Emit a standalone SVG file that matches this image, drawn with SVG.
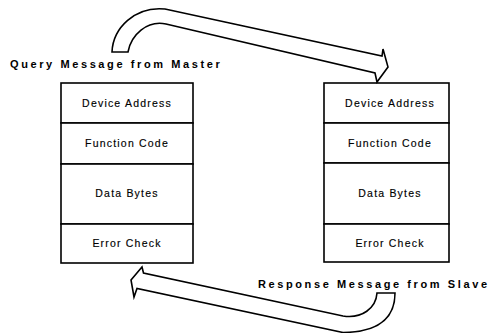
<svg xmlns="http://www.w3.org/2000/svg" width="489" height="333" viewBox="0 0 489 333">
<style>
.box{fill:#fff;stroke:#000;stroke-width:1.6}
.lbl{font-family:"Liberation Sans",Arial,sans-serif;font-size:10.5px;letter-spacing:1.2px;text-anchor:middle;fill:#000;stroke:#000;stroke-width:0.15}
.cap{font-family:"Liberation Sans",Arial,sans-serif;font-size:11px;font-weight:bold;letter-spacing:2.6px;fill:#000}
.arrow{fill:#fff;stroke:#000;stroke-width:1.6;stroke-linejoin:miter}
</style>
<rect width="489" height="333" fill="#fff"/>
<g id="master-frame">
<rect class="box" x="61" y="83" width="132" height="40"/>
<rect class="box" x="61" y="123" width="132" height="41"/>
<rect class="box" x="61" y="164" width="132" height="60"/>
<rect class="box" x="61" y="224" width="132" height="39"/>
<text class="lbl" x="127" y="107">Device Address</text>
<text class="lbl" x="127" y="147">Function Code</text>
<text class="lbl" x="127" y="197">Data Bytes</text>
<text class="lbl" x="127" y="247">Error Check</text>
</g>
<g id="slave-frame">
<rect class="box" x="324" y="83" width="125" height="40"/>
<rect class="box" x="324" y="123" width="125" height="40"/>
<rect class="box" x="324" y="163" width="125" height="61"/>
<rect class="box" x="324" y="224" width="125" height="38"/>
<text class="lbl" x="390" y="107">Device Address</text>
<text class="lbl" x="390" y="147">Function Code</text>
<text class="lbl" x="390" y="197">Data Bytes</text>
<text class="lbl" x="390" y="247">Error Check</text>
</g>
<g id="connectors">
<path class="arrow" d="M112,52 C113,28 135,6 165,9 L382,56 L383,49 L388,67 L377,82 L375,73 L166,24 C147,20 131,35 128,52 Z"/>
<path class="arrow" d="M131,280 L142,267 L143.5,273 L343,316 C362,319 376,308 377,293 L395,293 C395,314 384,332 343,332.5 L137,288.5 L134,297 Z"/>
<text class="cap" x="10" y="68">Query Message from Master</text>
<text class="cap" x="258" y="288">Response Message from Slave</text>
</g>
</svg>
